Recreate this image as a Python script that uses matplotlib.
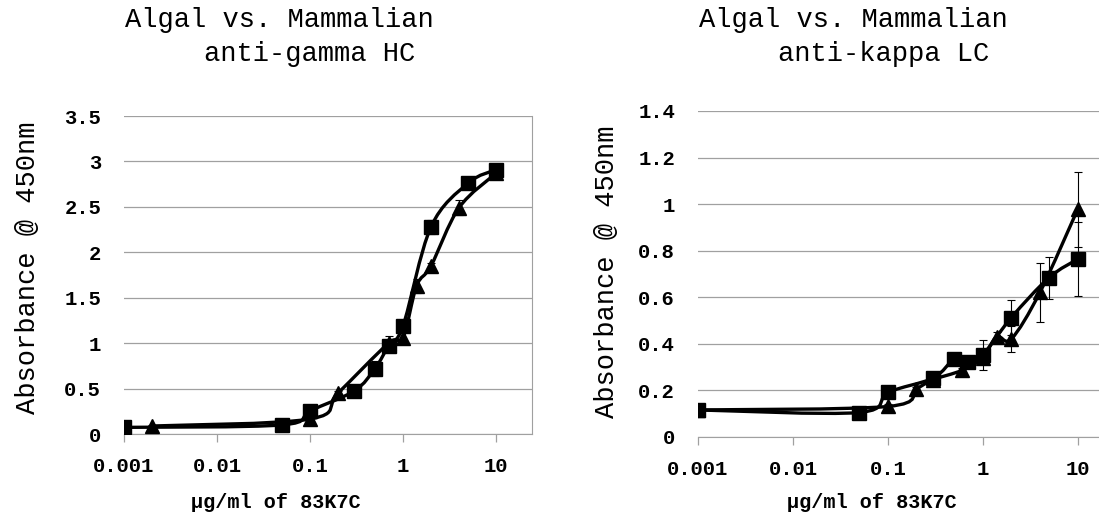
import numpy as np
import matplotlib.pyplot as plt
from matplotlib.path import Path
from matplotlib.patches import PathPatch
from matplotlib.ticker import FixedLocator, FuncFormatter

# ---- data ----
# left panel: anti-gamma HC
hc_sq_x = [0.001, 0.05, 0.1, 0.3, 0.5, 0.7, 1, 2, 5, 10]
hc_sq_y = [0.073, 0.10, 0.255, 0.475, 0.72, 0.97, 1.19, 2.28, 2.76, 2.91]
hc_sq_err = [0.01, 0.01, 0.02, 0.02, 0.08, 0.07, 0.05, 0.08, 0.03, 0.03]
hc_tri_x = [0.002, 0.1, 0.2, 0.7, 1, 1.4, 2, 4, 10]
hc_tri_y = [0.088, 0.165, 0.45, 1.0, 1.06, 1.63, 1.85, 2.49, 2.87]
hc_tri_err = [0.01, 0.02, 0.02, 0.08, 0.06, 0.08, 0.03, 0.08, 0.03]

# right panel: anti-kappa LC
lc_sq_x = [0.001, 0.05, 0.1, 0.3, 0.5, 0.7, 1, 2, 5, 10]
lc_sq_y = [0.115, 0.104, 0.19, 0.252, 0.333, 0.323, 0.352, 0.512, 0.684, 0.763]
lc_sq_err = [0.01, 0.01, 0.01, 0.01, 0.01, 0.01, 0.065, 0.075, 0.09, 0.16]
lc_tri_x = [0.001, 0.1, 0.2, 0.3, 0.6, 1, 1.4, 2, 4, 10]
lc_tri_y = [0.115, 0.13, 0.205, 0.245, 0.285, 0.34, 0.43, 0.42, 0.62, 0.977]
lc_tri_err = [0.01, 0.01, 0.01, 0.01, 0.01, 0.02, 0.02, 0.055, 0.127, 0.16]

x_ticks = [0.001, 0.01, 0.1, 1, 10]
hc_yticks = [0, 0.5, 1, 1.5, 2, 2.5, 3, 3.5]
lc_yticks = [0, 0.2, 0.4, 0.6, 0.8, 1, 1.2, 1.4]

MONO = 'Liberation Mono'
GRID = '#a0a0a0'
W, H = 1099, 514


def smooth_path(xs, ys):
    # Excel-like smoothed line: Catmull-Rom Bezier in (log x, y)
    p = np.column_stack([np.log10(xs), ys])
    n = len(p)
    verts = [p[0]]
    codes = [Path.MOVETO]
    for i in range(n - 1):
        p0 = p[i - 1] if i > 0 else p[i]
        p1 = p[i]
        p2 = p[i + 1]
        p3 = p[i + 2] if i + 2 < n else p[i + 1]
        c1 = p1 + (p2 - p0) / 6.0
        c2 = p2 - (p3 - p1) / 6.0
        verts += [c1, c2, p2]
        codes += [Path.CURVE4] * 3
    verts = np.array(verts)
    verts[:, 0] = 10 ** verts[:, 0]
    return Path(verts, codes)


def fx(px):
    return px / W


def fy(py):
    return 1 - py / H


def panel(rect, xmax, yticks, series, show_right):
    ax = fig.add_axes(rect)
    ax.set_xscale('log')
    ax.set_xlim(0.001, xmax)
    ax.set_ylim(yticks[0], yticks[-1])
    ax.xaxis.set_major_locator(FixedLocator(x_ticks))
    ax.xaxis.set_minor_locator(FixedLocator([]))
    ax.xaxis.set_major_formatter(FuncFormatter(lambda v, p: '%g' % v))
    ax.yaxis.set_major_locator(FixedLocator(yticks))
    ax.yaxis.set_major_formatter(FuncFormatter(lambda v, p: '%g' % v))
    ax.grid(axis='y', color=GRID, lw=0.9)
    ax.set_axisbelow(True)
    for s in ['top', 'left']:
        ax.spines[s].set_visible(False)
    ax.spines['bottom'].set_color(GRID)
    ax.spines['right'].set_color(GRID)
    ax.spines['right'].set_visible(show_right)
    ax.tick_params(axis='x', direction='out', length=5.5, color=GRID, width=0.9, pad=11)
    ax.tick_params(axis='y', length=0, pad=16.5)
    for lab in ax.get_xticklabels() + ax.get_yticklabels():
        lab.set_fontfamily(MONO)
        lab.set_fontsize(14.8)
        lab.set_fontweight('bold')
    for xs, ys, err, mk, ms in series:
        ax.add_patch(PathPatch(smooth_path(xs, ys), fill=False, ec='black', lw=2.4, zorder=3))
        ax.errorbar(xs, ys, yerr=err, fmt='none', ecolor='black', elinewidth=0.8,
                    capsize=3, capthick=0.8, zorder=4)
        ax.plot(xs, ys, ls='none', marker=mk, ms=ms, color='black', zorder=5)
    return ax


fig = plt.figure(figsize=(W / 100, H / 100), dpi=100)

panel([fx(124), fy(434), fx(532 - 124), (434 - 116) / H], 10 ** 1.387, hc_yticks,
      [(hc_sq_x, hc_sq_y, hc_sq_err, 's', 9.6),
       (hc_tri_x, hc_tri_y, hc_tri_err, '^', 10)], True)
panel([fx(698), fy(436.7), fx(1099 - 698), (436.7 - 111) / H], 10 ** 1.225, lc_yticks,
      [(lc_sq_x, lc_sq_y, lc_sq_err, 's', 9.6),
       (lc_tri_x, lc_tri_y, lc_tri_err, '^', 10)], False)

# titles
fig.text(fx(125), fy(27), 'Algal vs. Mammalian', family=MONO, fontsize=19.5, va='baseline')
fig.text(fx(204), fy(61), 'anti-gamma HC', family=MONO, fontsize=19.5, va='baseline')
fig.text(fx(699), fy(27), 'Algal vs. Mammalian', family=MONO, fontsize=19.5, va='baseline')
fig.text(fx(778), fy(61), 'anti-kappa LC', family=MONO, fontsize=19.5, va='baseline')

# axis labels
for x0 in [276, 872]:
    fig.text(fx(x0), fy(502), 'µg/ml of 83K7C', family=MONO, fontsize=14.5,
             fontweight='bold', ha='center', va='center')
for x0, y0 in [(28, 268), (607, 272)]:
    fig.text(fx(x0), fy(y0), 'Absorbance @ 450nm', family=MONO, fontsize=19.5,
             rotation=90, ha='center', va='center')

fig.savefig('out.png', dpi=100)
